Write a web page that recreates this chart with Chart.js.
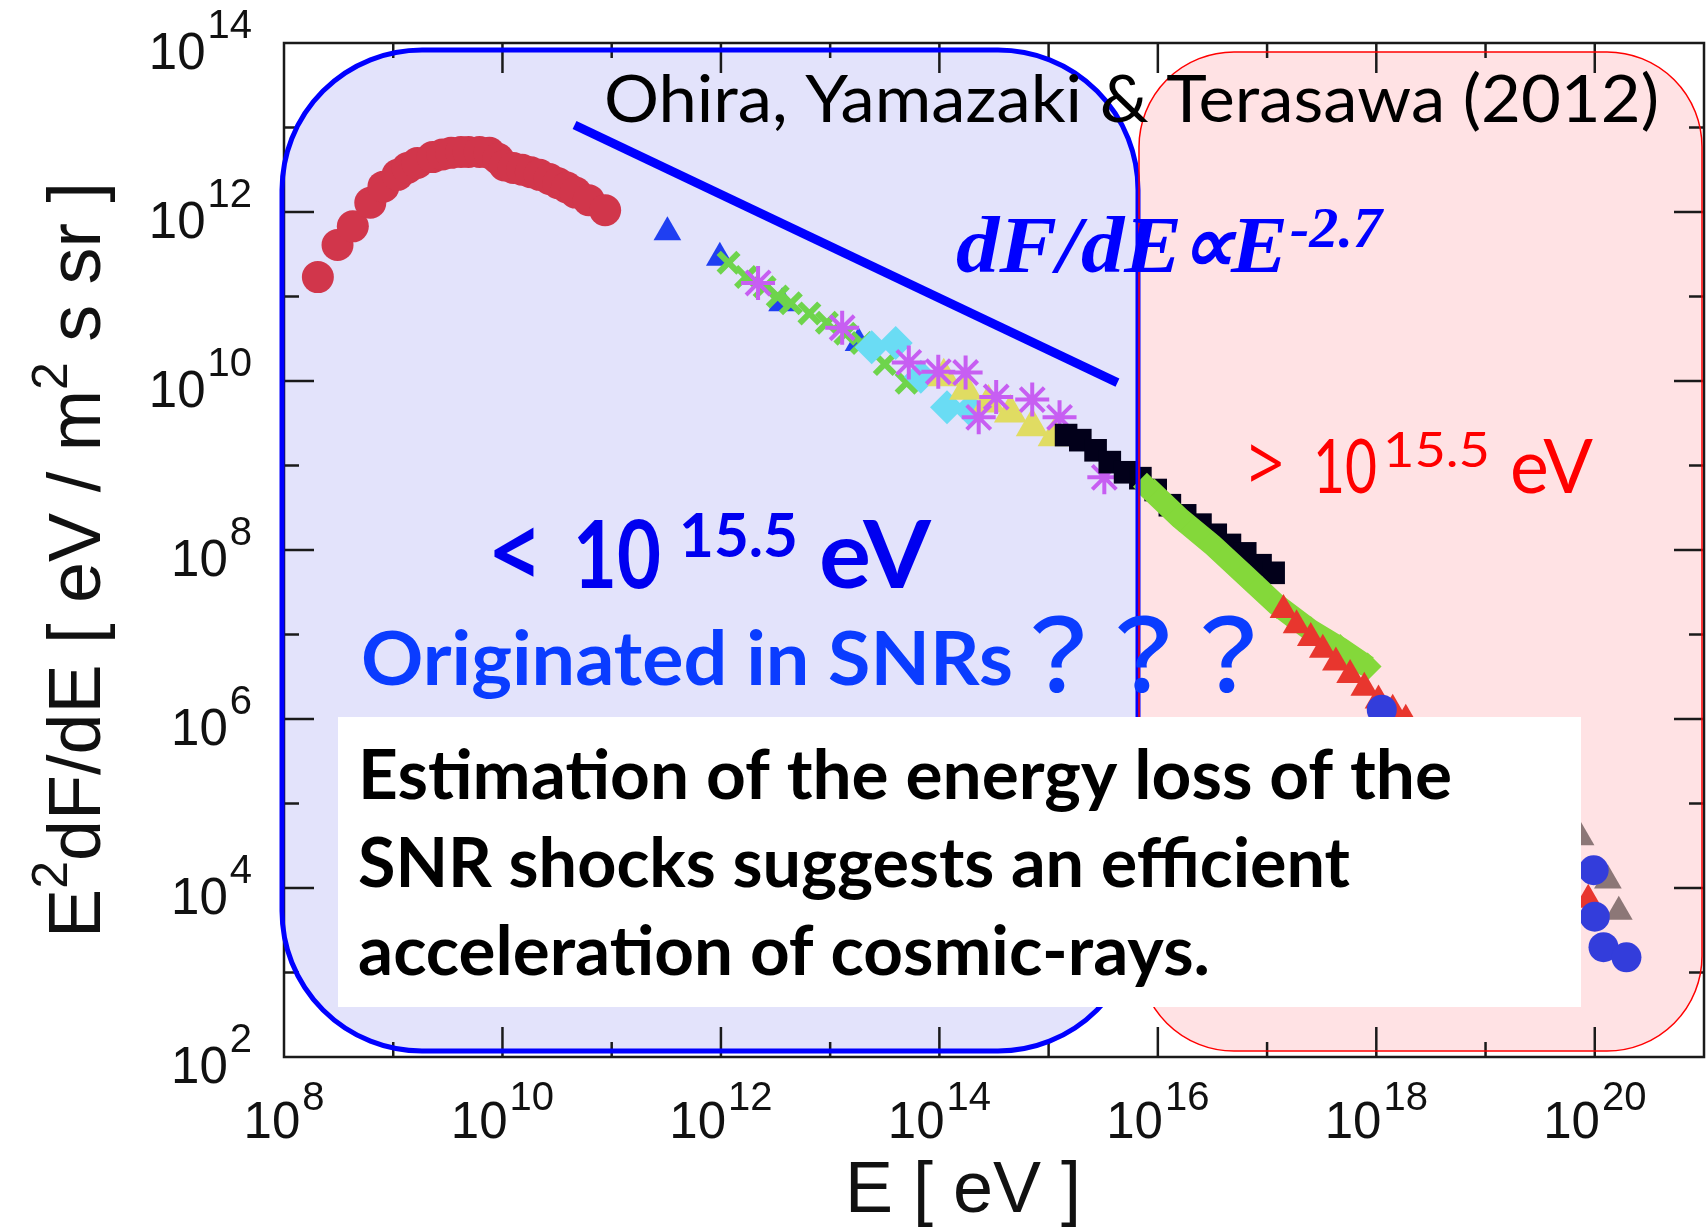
<!DOCTYPE html>
<html>
<head>
<meta charset="utf-8">
<script src="https://cdn.jsdelivr.net/npm/chart.js@4.4.1/dist/chart.umd.min.js"></script>
<style>
  html, body { margin: 0; padding: 0; background: #fff; overflow: hidden; }
  #wrap { width: 1706px; height: 1228px; }
  canvas { display: block; }
</style>
</head>
<body>
<div id="wrap"><canvas id="spectrum"></canvas></div>
<script>
// values are log10(E / eV) and log10(E^2 dF/dE)
const lowLogE = [8.31, 8.49, 8.63, 8.79, 8.91, 9.04, 9.13, 9.22, 9.36, 9.45, 9.53, 9.62, 9.69, 9.79, 9.88, 9.96, 10.02, 10.10, 10.18, 10.26, 10.34, 10.43, 10.51, 10.59, 10.67, 10.79, 10.94];
const lowLogF = [11.23, 11.61, 11.83, 12.11, 12.30, 12.44, 12.52, 12.58, 12.65, 12.68, 12.70, 12.71, 12.71, 12.71, 12.70, 12.63, 12.55, 12.52, 12.50, 12.47, 12.44, 12.39, 12.34, 12.29, 12.23, 12.14, 12.02];

const blueTriLogE = [11.51, 11.99, 12.56, 13.26];
const blueTriLogF = [11.76, 11.46, 10.92, 10.45];

const greenCrossLogE = [12.07, 12.23, 12.40, 12.52, 12.64, 12.81, 12.97, 13.14, 13.29, 13.50, 13.70];
const greenCrossLogF = [11.40, 11.23, 11.11, 11.00, 10.92, 10.80, 10.69, 10.56, 10.45, 10.20, 9.98];

const starLogE = [12.34, 13.11, 13.72, 13.99, 14.24, 14.36, 14.52, 14.85, 15.10, 15.51];
const starLogF = [11.16, 10.63, 10.22, 10.11, 10.10, 9.57, 9.81, 9.78, 9.57, 8.86];

const cyanLogE = [13.38, 13.60, 13.83, 14.07, 14.28];
const cyanLogF = [10.40, 10.45, 10.05, 9.69, 9.66];

const yellowLogE = [14.04, 14.24, 14.45, 14.65, 14.85, 15.05];
const yellowLogF = [10.05, 9.89, 9.74, 9.62, 9.46, 9.34];

const blackLogE = [15.16, 15.29, 15.43, 15.56, 15.70, 15.84, 15.98, 16.11, 16.25, 16.39, 16.53, 16.66, 16.80, 16.94, 17.06];
const blackLogF = [9.36, 9.30, 9.18, 9.04, 8.92, 8.85, 8.71, 8.53, 8.41, 8.30, 8.18, 8.06, 7.96, 7.82, 7.73];

const greenLogE = [15.90, 16.20, 16.50, 16.80, 17.09, 17.40, 17.67, 17.92];
const greenLogF = [8.75, 8.38, 8.06, 7.70, 7.35, 7.05, 6.84, 6.62];

const redTriLogE = [17.15, 17.27, 17.40, 17.51, 17.63, 17.76, 17.89, 18.02, 18.15, 18.27, 19.94];
const redTriLogF = [7.29, 7.11, 6.96, 6.82, 6.67, 6.52, 6.37, 6.22, 6.11, 5.99, 3.86];

const highLogE = [18.05, 19.99, 20.00, 20.08, 20.29];
const highLogF = [6.11, 4.21, 3.66, 3.30, 3.18];

const grayLogE = [19.87, 20.12, 20.22];
const grayLogF = [4.60, 4.09, 3.72];

// dF/dE ∝ E^-2.7 guide line
const slopeLogE = [10.66, 15.63];
const slopeLogF = [13.03, 9.98];

const xTickExps = [8, 10, 12, 14, 16, 18, 20];
const yTickExps = [2, 4, 6, 8, 10, 12, 14];

const pts = (le, lf) => le.map((e, i) => ({ x: 10 ** e, y: 10 ** lf[i] }));

const marks = (data, style, radius, color, extra) => ({
  data,
  showLine: false,
  pointStyle: style,
  pointRadius: radius,
  pointBackgroundColor: color,
  pointBorderColor: color,
  pointBorderWidth: 0,
  ...extra,
});

function line(ctx, x1, y1, x2, y2) {
  ctx.beginPath();
  ctx.moveTo(x1, y1);
  ctx.lineTo(x2, y2);
  ctx.stroke();
}

function roundBox(ctx, x, y, w, h, r) {
  ctx.beginPath();
  ctx.moveTo(x + r, y);
  ctx.arcTo(x + w, y, x + w, y + h, r);
  ctx.arcTo(x + w, y + h, x, y + h, r);
  ctx.arcTo(x, y + h, x, y, r);
  ctx.arcTo(x, y, x + w, y, r);
  ctx.closePath();
}

const blueBox = [282, 50, 856, 1001, 140];
const redBox = [1139, 52, 563, 999, 95];

function fitText(ctx, str, x, y, width) {
  const w = ctx.measureText(str).width;
  ctx.save();
  ctx.translate(x, y);
  ctx.scale(width / w, 1);
  ctx.fillText(str, 0, 0);
  ctx.restore();
}

const baseFont = "51px 'Liberation Sans'";
const expFont = "40px 'Liberation Sans'";

function drawFrame(chart) {
  const { ctx, chartArea: a, scales: { x, y } } = chart;
  ctx.save();

  // shaded regions go under the data
  roundBox(ctx, ...blueBox);
  ctx.fillStyle = "#e3e3fb";
  ctx.fill();
  roundBox(ctx, ...redBox);
  ctx.fillStyle = "#ffe2e4";
  ctx.fill();

  ctx.strokeStyle = "#1a1a1a";
  ctx.lineWidth = 2.5;
  ctx.strokeRect(a.left, a.top, a.right - a.left, a.bottom - a.top);

  for (let e = 9; e <= 20; e++) {
    const px = x.getPixelForValue(10 ** e);
    const len = e % 2 === 0 ? 30 : 15;
    line(ctx, px, a.bottom, px, a.bottom - len);
    line(ctx, px, a.top, px, a.top + len);
  }
  for (let e = 3; e <= 13; e++) {
    const py = y.getPixelForValue(10 ** e);
    const len = e % 2 === 0 ? 30 : 15;
    line(ctx, a.left, py, a.left + len, py);
    line(ctx, a.right, py, a.right - len, py);
  }

  ctx.fillStyle = "#111";
  ctx.textBaseline = "alphabetic";
  ctx.textAlign = "left";
  const widths = (e) => {
    ctx.font = baseFont;
    const bw = ctx.measureText("10").width;
    ctx.font = expFont;
    return { bw, ew: ctx.measureText(String(e)).width };
  };
  xTickExps.forEach((e) => {
    const px = x.getPixelForValue(10 ** e);
    const { bw, ew } = widths(e);
    const left = px - (bw + ew + 2) / 2;
    ctx.font = baseFont;
    ctx.fillText("10", left, a.bottom + 81);
    ctx.font = expFont;
    ctx.fillText(String(e), left + bw + 2, a.bottom + 53);
  });
  yTickExps.forEach((e) => {
    const py = y.getPixelForValue(10 ** e);
    const { bw, ew } = widths(e);
    const right = 252;
    ctx.font = baseFont;
    ctx.fillText("10", right - ew - 2 - bw, py + 26);
    ctx.font = expFont;
    ctx.fillText(String(e), right - ew, py - 5);
  });

  // axis titles
  ctx.font = "72px 'Liberation Sans'";
  ctx.textAlign = "center";
  ctx.fillText("E [ eV ]", 963, 1212);
  ctx.textAlign = "left";

  const pieces = [["E", 0], ["2", 1], ["dF/dE [ eV / m", 0], ["2", 1], [" s sr ]", 0]];
  const fonts = ["74px 'Liberation Sans'", "50px 'Liberation Sans'"];
  let total = 0;
  pieces.forEach(([t, s]) => {
    ctx.font = fonts[s];
    total += ctx.measureText(t).width;
  });
  ctx.save();
  ctx.translate(100, 560);
  ctx.rotate(-Math.PI / 2);
  ctx.scale(756 / total, 1);
  let cx = -total / 2;
  pieces.forEach(([t, s]) => {
    ctx.font = fonts[s];
    ctx.fillText(t, cx, s ? -33 : 0);
    cx += ctx.measureText(t).width;
  });
  ctx.restore();
  ctx.restore();
}

function drawNotes(chart) {
  const { ctx } = chart;
  ctx.save();

  roundBox(ctx, ...blueBox);
  ctx.strokeStyle = "#0000ff";
  ctx.lineWidth = 5;
  ctx.stroke();

  roundBox(ctx, ...redBox);
  ctx.strokeStyle = "#ff0000";
  ctx.lineWidth = 1.5;
  ctx.stroke();

  // white note box
  ctx.fillStyle = "#ffffff";
  ctx.fillRect(338, 717, 1243, 290);

  ctx.textAlign = "left";
  ctx.textBaseline = "alphabetic";

  ctx.fillStyle = "#000";
  ctx.font = "66px Lato";
  fitText(ctx, "Ohira, Yamazaki & Terasawa (2012)", 604, 122, 1055);

  ctx.font = "bold 68px Lato";
  fitText(ctx, "Estimation of the energy loss of the", 358, 799, 1094);
  fitText(ctx, "SNR shocks suggests an efficient", 358, 887, 992);
  fitText(ctx, "acceleration of cosmic-rays.", 358, 975, 852);

  ctx.fillStyle = "#0000ff";
  ctx.font = "bold italic 80px 'Liberation Serif'";
  fitText(ctx, "dF/dE", 956, 272, 226);
  fitText(ctx, "\u221D", 1180, 272, 54);
  fitText(ctx, "E", 1231, 272, 57);
  ctx.font = "bold italic 58px 'Liberation Serif'";
  fitText(ctx, "-2.7", 1290, 247, 92);

  ctx.fillStyle = "#0000f0";
  ctx.font = "bold 94px 'Open Sans'";
  fitText(ctx, "<", 491, 586, 46);
  ctx.font = "bold 94px Lato";
  fitText(ctx, "10", 573, 588, 88);
  fitText(ctx, "eV", 819, 588, 112);
  ctx.font = "bold 62px Lato";
  fitText(ctx, "15.5", 679, 557, 119);

  ctx.fillStyle = "#0a3cff";
  ctx.font = "bold 74px Lato";
  fitText(ctx, "Originated in SNRs", 361, 685, 652);
  ctx.font = "500 100px 'Noto Sans CJK JP'";
  ctx.textAlign = "center";
  ["\uFF1F", "\uFF1F", "\uFF1F"].forEach((q, i) => ctx.fillText(q, 1058 + i * 85, 692));
  ctx.textAlign = "left";

  ctx.fillStyle = "#ff0000";
  ctx.font = "76px 'Open Sans'";
  fitText(ctx, ">", 1248, 491, 36);
  ctx.font = "76px Lato";
  fitText(ctx, "10", 1313, 493, 64);
  fitText(ctx, "eV", 1510, 493, 83);
  ctx.font = "49px Lato";
  fitText(ctx, "15.5", 1383, 467, 107);

  ctx.restore();
}

const overlay = {
  id: "overlay",
  beforeDatasetsDraw: (chart) => drawFrame(chart),
  afterDatasetsDraw: (chart) => drawNotes(chart),
};

new Chart(document.getElementById("spectrum"), {
  type: "scatter",
  data: {
    datasets: [
      marks(pts(highLogE, highLogF), "circle", 15, "#333ddb"),
      marks(pts(grayLogE, grayLogF), "triangle", 16, "#8c7777"),
      marks(pts(redTriLogE, redTriLogF), "triangle", 16, "#e8362e"),
      {
        data: pts(greenLogE, greenLogF),
        showLine: true,
        borderColor: "#84d83a",
        borderWidth: 22,
        pointStyle: "rectRot",
        pointRadius: 14,
        pointBackgroundColor: "#84d83a",
        pointBorderWidth: 0,
      },
      marks(pts(blackLogE, blackLogF), "rect", 16, "#02001a"),
      marks(pts(starLogE, starLogF), "star", 17, "#c75ef2", { pointBorderWidth: 4 }),
      marks(pts(yellowLogE, yellowLogF), "triangle", 19, "#e0dc62"),
      marks(pts(cyanLogE, cyanLogF), "rectRot", 17, "#6adcf4"),
      marks(pts(greenCrossLogE, greenCrossLogF), "crossRot", 14, "#6ed44c", { pointBorderWidth: 6 }),
      marks(pts(blueTriLogE, blueTriLogF), "triangle", 16, "#1f3ff2"),
      marks(pts(lowLogE, lowLogF), "circle", 16, "#d1364b"),
      {
        data: pts(slopeLogE, slopeLogF),
        showLine: true,
        borderColor: "#0000ff",
        borderWidth: 9,
        pointRadius: 0,
      },
    ],
  },
  options: {
    responsive: true,
    maintainAspectRatio: false,
    animation: false,
    layout: { autoPadding: false, padding: { left: 284, top: 43, right: 2, bottom: 171 } },
    plugins: { legend: { display: false }, tooltip: { enabled: false } },
    scales: {
      x: { type: "logarithmic", min: 1e8, max: 1e21, display: false },
      y: { type: "logarithmic", min: 1e2, max: 1e14, display: false },
    },
  },
  plugins: [overlay],
});
</script>
</body>
</html>
